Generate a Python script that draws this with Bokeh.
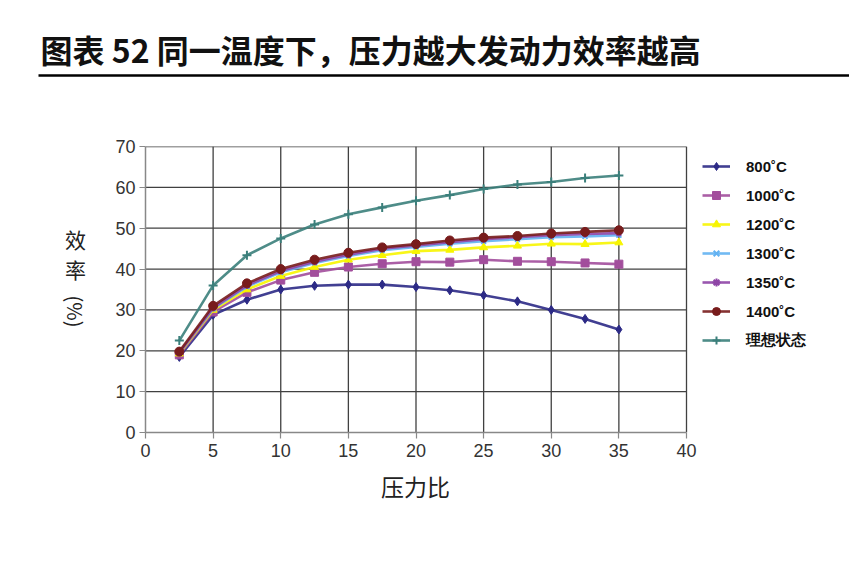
from bokeh.plotting import figure
from bokeh.layouts import column, row
from bokeh.models import Range1d, Legend, LegendItem, FixedTicker, Title
from bokeh.core.properties import value
from bokeh.embed import file_html
from bokeh.resources import INLINE
import math

# ---------------- data ----------------
pressure_ratio = [2.5, 5, 7.5, 10, 12.5, 15, 17.5, 20, 22.5, 25, 27.5, 30, 32.5, 35]
eff_800 = [18.5, 28.8, 32.5, 35.0, 35.9, 36.2, 36.2, 35.6, 34.8, 33.6, 32.1, 30.0, 27.8, 25.2]
eff_1000 = [19.0, 29.5, 34.3, 37.3, 39.2, 40.5, 41.3, 41.8, 41.7, 42.3, 41.9, 41.8, 41.5, 41.2]
eff_1200 = [19.3, 30.0, 35.0, 38.3, 40.5, 42.3, 43.4, 44.4, 44.7, 45.3, 45.7, 46.2, 46.1, 46.5]
eff_1300 = [19.5, 30.3, 35.7, 39.2, 41.5, 43.2, 44.6, 45.4, 46.2, 46.8, 47.3, 47.8, 48.0, 48.3]
eff_1350 = [19.5, 30.5, 36.0, 39.5, 41.8, 43.5, 45.0, 45.8, 46.6, 47.3, 47.8, 48.3, 48.6, 48.8]
eff_1400 = [19.8, 31.0, 36.5, 40.0, 42.3, 44.0, 45.3, 46.1, 47.0, 47.7, 48.1, 48.7, 49.1, 49.5]
eff_ideal = [22.5, 36.0, 43.4, 47.5, 50.9, 53.4, 55.1, 56.7, 58.1, 59.6, 60.7, 61.3, 62.3, 62.9]

series_names = ["800˚C", "1000˚C", "1200˚C", "1300˚C", "1350˚C", "1400˚C", "理想状态"]
series_values = [eff_800, eff_1000, eff_1200, eff_1300, eff_1350, eff_1400, eff_ideal]
series_colors = ["#2C2A86", "#A24E9C", "#F7F500", "#62B2F2", "#8E45A6", "#781C1C", "#3B7F7B"]
series_markers = ["diamond", "square", "triangle", "x", "asterisk", "circle", "cross"]
series_msizes = [9, 8, 8, 7, 7, 9, 9]

x_ticks = [0, 5, 10, 15, 20, 25, 30, 35, 40]
y_ticks = [0, 10, 20, 30, 40, 50, 60, 70]
x_min, x_max = 0, 40
y_min, y_max = 0, 70

title_text = "图表 52 同一温度下，压力越大发动力效率越高"
x_label = "压力比"
y_label_parts = ["效", "率", "(%)"]

# ---------------- layout constants (page pixels) ----------------
W = 845
TITLE_W = 849
H = 560
TOP_H = 88
MAIN_H = H - TOP_H
LEFT_W = 100
MAIN_W = W - LEFT_W
FRAME_L, FRAME_R40, FRAME_T, FRAME_B = 145, 686, 146, 432
border_left = FRAME_L - LEFT_W
border_top = FRAME_T - TOP_H
border_bottom = H - FRAME_B
frame_w = MAIN_W - border_left
x_view_end = x_max * frame_w / (FRAME_R40 - FRAME_L)

# ---------------- title strip ----------------
t = figure(width=TITLE_W, height=TOP_H, x_range=Range1d(0, TITLE_W), y_range=Range1d(0, TOP_H),
           x_axis_type=None, y_axis_type=None, toolbar_location=None,
           output_backend="svg", min_border=0, frame_align=False)
t.outline_line_color = None
t.grid.visible = False
t.text(x=[40], y=[TOP_H - 48], text=[title_text], text_font=value("Noto Sans CJK SC"),
       text_font_style="bold", text_font_size="32px", text_baseline="middle",
       text_align="left", text_color="#111111")
t.segment(x0=[38], y0=[TOP_H - 75], x1=[TITLE_W], y1=[TOP_H - 75], line_color="#000000", line_width=2.5)

# ---------------- y label strip ----------------
yl = figure(width=LEFT_W, height=MAIN_H, x_range=Range1d(0, LEFT_W), y_range=Range1d(0, MAIN_H),
            x_axis_type=None, y_axis_type=None, toolbar_location=None,
            output_backend="svg", min_border=0, frame_align=False)
yl.outline_line_color = None
yl.grid.visible = False
yl.text(x=[75, 75], y=[H - 238, H - 268], text=y_label_parts[:2],
        text_font=value("Noto Sans CJK SC"), text_font_size="21px", text_color="#222222",
        text_align="center", text_baseline="middle")
yl.text(x=[75], y=[H - 311], text=[y_label_parts[2]], angle=-math.pi / 2,
        text_font=value("Noto Sans CJK SC"), text_font_size="20px", text_color="#222222",
        text_align="center", text_baseline="middle")

# ---------------- main chart ----------------
p = figure(width=MAIN_W, height=MAIN_H, x_range=Range1d(x_min, x_view_end), y_range=Range1d(y_min, y_max),
           toolbar_location=None, output_backend="svg", frame_align=False,
           min_border_left=border_left, min_border_right=0, min_border_top=border_top,
           min_border_bottom=border_bottom)
p.outline_line_color = None
p.grid.visible = False
p.xaxis.ticker = FixedTicker(ticks=x_ticks)
p.yaxis.ticker = FixedTicker(ticks=y_ticks)
p.xaxis.bounds = (x_min, x_max)
for ax in (p.xaxis, p.yaxis):
    ax.axis_line_color = "#888888"
    ax.axis_line_width = 1.5
    ax.major_tick_line_color = "#888888"
    ax.major_tick_line_width = 1.2
    ax.major_tick_out = 6
    ax.major_tick_in = 0
    ax.minor_tick_line_color = None
    ax.major_label_text_font = "Liberation Sans"
    ax.major_label_text_font_size = "18px"
    ax.major_label_text_color = "#333333"
p.xaxis.major_label_standoff = 5
p.yaxis.major_label_standoff = 4

# x-axis title, centred under the 0..40 span
x_title = Title(text=x_label, align="left", offset=(FRAME_R40 - FRAME_L) / 2 - 35,
                text_font="Noto Sans CJK SC", text_font_style="normal",
                text_font_size="23px", text_color="#222222", standoff=14)
p.add_layout(x_title, "below")

# grid drawn from the tick lists, limited to the data area
vx = [v for v in x_ticks if v > x_min]
hy = [v for v in y_ticks if v > y_min]
p.segment(x0=vx, y0=[y_min] * len(vx), x1=vx, y1=[y_max] * len(vx), line_color="#404040", line_width=1.3)
p.segment(x0=[x_min] * len(hy), y0=hy, x1=[x_max] * len(hy), y1=hy, line_color="#404040", line_width=1.3)

items = []
for name, vals, col, mk, ms in zip(series_names, series_values, series_colors, series_markers, series_msizes):
    r1 = p.line(pressure_ratio, vals, line_color=col, line_width=2.6, line_alpha=0.9)
    r2 = p.scatter(pressure_ratio, vals, marker=mk, size=ms, fill_color=col, line_color=col,
                   line_width=2 if mk in ("x", "asterisk", "cross") else 1)
    items.append(LegendItem(label=name, renderers=[r1, r2]))

legend = Legend(items=items, location=(702 - FRAME_L, 82), border_line_color=None,
                background_fill_alpha=0, padding=0, margin=0,
                glyph_width=28, glyph_height=20, label_height=20,
                label_standoff=16, spacing=9,
                label_text_font="Liberation Sans", label_text_font_size="15px",
                label_text_font_style="bold", label_text_color="#111111")
p.add_layout(legend, "center")

layout = column(t, row(yl, p, spacing=0), spacing=0)
open("out.html", "w").write(file_html(layout, INLINE))
